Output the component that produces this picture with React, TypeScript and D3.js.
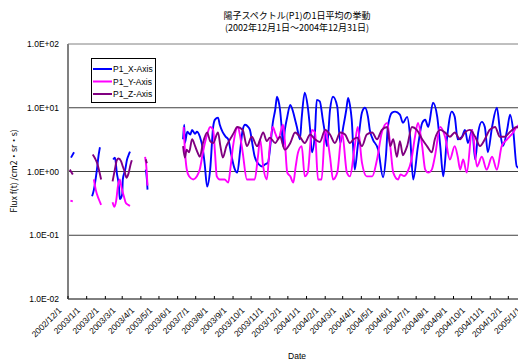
import React from "react";
import * as d3 from "d3";

// ---- Data (days since 2002-12-01, daily flux value; null = gap) ----
const startDate = new Date(2002, 11, 1);
const endDate = new Date(2005, 0, 1);

const titleLines = ["陽子スペクトル(P1)の1日平均の挙動", "(2002年12月1日～2004年12月31日)"];
const yTickValues = [0.01, 0.1, 1, 10, 100];
const yTickLabels = ["1.0E-02", "1.0E-01", "1.0E+00", "1.0E+01", "1.0E+02"];
const seriesNames = ["P1_X-Axis", "P1_Y-Axis", "P1_Z-Axis"];
const seriesColors = ["#0000ff", "#ff00ff", "#800080"];

const seriesX: [number, number | null][] = [
  [5, 1.65], [10, 2.0], [20, null],
  [40, 0.41], [43, 0.52], [48, 1.07], [51, 1.85], [53, 2.4], [60, null],
  [75, 1.54], [78, 1.65], [81, 0.96], [85, 0.52], [86, 0.37], [90, 0.44], [91, 0.75], [95, 1.07], [98, 1.54], [101, 1.85], [103, 2.05], [115, null],
  [129, 1.07], [131, 0.75], [132, 0.52], [150, null],
  [191, 3.2], [193, 5.4], [194, 2.8], [198, 4.2], [203, 3.8], [206, 4.5], [211, 3.9], [214, 4.2], [219, 3.5], [224, 2.2], [227, 1.29], [231, 0.58], [236, 1.07], [241, 5.0], [244, 6.5], [249, 7.0], [252, 5.4], [257, 4.1], [262, 3.5], [266, 3.2], [271, 1.85], [276, 1.15], [281, 0.96], [286, 2.2], [290, 4.5], [294, 5.4], [299, 5.0], [302, 4.5], [307, 2.4], [310, 1.7], [317, 1.29], [322, 1.2], [327, 1.29], [332, 1.38], [337, 3.2], [340, 5.8], [344, 9.3], [347, 14.9], [349, 13.3], [352, 9.3], [355, 4.5], [357, 2.5], [360, 4.5], [364, 7.2], [369, 11.1], [374, 8.4], [377, 6.5], [380, 5.0], [385, 3.2], [388, 7.0], [393, 17.2], [398, 10.4], [402, 4.5], [405, 2.0], [410, 4.1], [413, 13.3], [418, 12.6], [423, 6.5], [427, 3.8], [430, 2.5], [435, 9.3], [440, 14.9], [447, 10.4], [452, 2.8], [457, 5.0], [462, 9.3], [465, 14.3], [468, 11.1], [471, 6.5], [476, 1.07], [481, 2.5], [488, 8.4], [493, 10], [498, 7.2], [501, 4.5], [506, 3.2], [515, 2.2], [523, 0.81], [528, 1.85], [531, 5.0], [538, 8.4], [543, 8.7], [551, 7.8], [556, 5.8], [563, 7.2], [568, 3.5], [573, 0.75], [581, 2.5], [588, 5.8], [593, 6.5], [598, 5.0], [606, 12.0], [613, 7.2], [618, 2.5], [623, 0.84], [629, 3.2], [637, 8.7], [642, 7.2], [647, 3.2], [654, 3.5], [659, 4.5], [664, 2.8], [671, 4.5], [676, 1.54], [681, 4.1], [687, 6.0], [692, 5.0], [697, 2.0], [704, 5.0], [712, 10], [717, 4.5], [722, 2.5], [729, 4.5], [734, 7.8], [739, 4.5], [745, 1.2], [752, 1.1], [760, 1.6],
];

const seriesY: [number, number | null][] = [
  [4, 0.35], [8, 0.34], [20, null],
  [43, 0.75], [46, 0.52], [51, 0.37], [55, 0.3], [60, null],
  [74, 0.33], [77, 0.28], [80, 0.35], [83, 0.6], [86, 0.75], [89, 0.55], [93, 0.4], [96, 0.32], [100, 0.3], [103, 0.29], [115, null],
  [128, 1.7], [130, 1.2], [132, 0.6], [150, null],
  [192, 5.0], [194, 2.2], [197, 1.1], [201, 0.84], [208, 0.75], [214, 0.84], [219, 1.1], [224, 2.0], [231, 3.8], [236, 5.0], [241, 4.5], [244, 2.0], [247, 0.84], [252, 0.75], [260, 0.75], [266, 0.67], [270, 1.2], [274, 2.5], [282, 5.0], [286, 3.5], [290, 2.0], [297, 0.75], [305, 0.75], [310, 0.75], [315, 1.6], [319, 3.2], [324, 1.2], [330, 0.75], [335, 2.5], [340, 5.0], [344, 4.0], [349, 3.2], [357, 5.4], [360, 3.0], [364, 0.96], [369, 0.84], [374, 0.67], [378, 1.2], [382, 2.0], [388, 2.5], [393, 0.84], [398, 0.96], [405, 4.5], [410, 4.1], [415, 0.75], [421, 0.75], [427, 4.5], [435, 1.7], [440, 0.75], [447, 0.96], [455, 4.1], [463, 0.96], [468, 0.84], [476, 2.5], [481, 5.0], [488, 1.38], [496, 0.84], [505, 0.84], [513, 1.54], [521, 4.1], [530, 5.8], [535, 2.5], [540, 0.96], [548, 0.75], [552, 0.9], [558, 0.85], [564, 1.0], [570, 1.5], [576, 3.5], [581, 5.8], [588, 2.5], [593, 1.07], [598, 0.96], [604, 1.07], [609, 1.7], [618, 5.0], [626, 3.5], [634, 1.54], [642, 2.5], [647, 1.7], [651, 1.07], [656, 1.54], [662, 0.96], [671, 4.5], [679, 1.2], [687, 1.7], [695, 1.07], [704, 1.7], [712, 1.07], [720, 2.5], [729, 3.2], [739, 4.1], [745, 5.0], [752, 5.5], [760, 4.0],
];

const seriesZ: [number, number | null][] = [
  [3, 1.07], [8, 0.9], [20, null],
  [41, 1.85], [45, 1.6], [49, 1.3], [52, 1.0], [55, 0.75], [60, null],
  [74, 0.7], [78, 1.1], [81, 1.5], [84, 1.6], [88, 1.45], [91, 1.2], [94, 1.0], [97, 0.8], [100, 0.9], [104, 1.3], [106, 1.5], [115, null],
  [129, 1.55], [131, 1.35], [150, null],
  [191, 2.5], [194, 1.65], [197, 2.2], [201, 2.0], [206, 3.2], [211, 2.5], [215, 2.0], [219, 1.7], [224, 2.8], [231, 4.1], [236, 3.0], [241, 2.8], [249, 4.1], [253, 2.5], [257, 1.65], [263, 2.5], [269, 3.2], [275, 4.0], [281, 5.0], [290, 4.5], [297, 2.5], [305, 3.5], [314, 2.5], [319, 3.2], [324, 4.1], [330, 3.0], [335, 3.4], [344, 2.8], [352, 3.5], [360, 2.2], [369, 2.8], [377, 4.1], [385, 3.5], [393, 2.8], [402, 3.8], [410, 3.2], [418, 2.9], [427, 4.5], [435, 3.8], [443, 2.8], [452, 4.1], [460, 3.8], [468, 2.8], [474, 3.2], [480, 3.4], [488, 2.5], [496, 3.8], [505, 4.1], [513, 3.2], [521, 4.5], [530, 5.0], [535, 2.5], [540, 3.2], [546, 1.7], [551, 3.0], [556, 1.8], [559, 2.0], [563, 2.5], [571, 5.0], [579, 4.5], [588, 3.2], [596, 2.5], [604, 2.0], [609, 3.2], [618, 4.5], [626, 4.1], [634, 3.5], [642, 4.1], [651, 3.2], [659, 4.1], [667, 4.5], [676, 3.5], [684, 2.5], [692, 3.2], [700, 4.5], [709, 5.0], [717, 3.5], [725, 3.5], [734, 4.2], [745, 5.0], [752, 4.5], [760, 3.8],
];

const allSeries = [seriesX, seriesY, seriesZ];

const W = 518;
const H = 361;
const plotLeft = 68;
const plotRight = 527;
const plotTop = 44;
const plotBottom = 299;
const latin = "'Liberation Sans', Arial, sans-serif";
const cjk = "'Noto Sans CJK JP', 'Liberation Sans', sans-serif";

export default function App() {
  const x = d3.scaleTime().domain([startDate, endDate]).range([plotLeft, plotRight]);
  const y = d3.scaleLog().domain([0.01, 100]).range([plotBottom, plotTop]);
  const line = d3
    .line<[number, number | null]>()
    .defined((d) => d[1] != null)
    .curve(d3.curveMonotoneX)
    .x((d) => x(d3.timeDay.offset(startDate, d[0])))
    .y((d) => y(d[1] as number));

  const months = d3.timeMonth.range(startDate, d3.timeDay.offset(endDate, 1));
  const fmt = (d: Date) => `${d.getFullYear()}/${d.getMonth() + 1}/1`;

  return (
    <>
      <style>{`body{margin:0;}`}</style>
      <svg width={W} height={H} style={{ display: "block", background: "#fff" }}>
        {/* title */}
        {titleLines.map((t, i) => (
          <text key={i} x={297} y={19 + i * 12} textAnchor="middle" fontFamily={cjk} fontSize={9} fill="#000">
            {t}
          </text>
        ))}
        {/* gridlines */}
        {yTickValues.map((v, i) => (
          <line
            key={i}
            x1={plotLeft}
            x2={W + 20}
            y1={y(v)}
            y2={y(v)}
            stroke={i === 0 ? "#000" : i === yTickValues.length - 1 ? "#808080" : "#404040"}
            strokeWidth={1}
          />
        ))}
        {/* left axis */}
        <line x1={plotLeft} x2={plotLeft} y1={plotTop} y2={plotBottom} stroke="#808080" strokeWidth={2} />
        {/* y tick labels */}
        {yTickValues.map((v, i) => (
          <text key={i} x={59} y={y(v) + 3} textAnchor="end" fontFamily={latin} fontSize={8.5} fill="#000">
            {yTickLabels[i]}
          </text>
        ))}
        {/* x ticks and labels */}
        {months.map((m, i) => (
          <g key={i}>
            <line x1={x(m)} x2={x(m)} y1={plotBottom} y2={plotBottom - 3} stroke="#000" />
            <text
              transform={`translate(${x(m) - 6},${plotBottom + 12}) rotate(-45)`}
              textAnchor="end"
              fontFamily={latin}
              fontSize={8.5}
              fill="#000"
            >
              {fmt(m)}
            </text>
          </g>
        ))}
        {/* axis titles */}
        <text x={297} y={359} textAnchor="middle" fontFamily={latin} fontSize={8.5} fill="#000">
          Date
        </text>
        <text transform="translate(17,171) rotate(-90)" textAnchor="middle" fontFamily={cjk} fontSize={8.5} fill="#000">
          Flux f(t) /cm2・sr・s)
        </text>
        {/* series */}
        {allSeries.map((s, i) => (
          <path key={i} d={line(s) || ""} fill="none" stroke={seriesColors[i]} strokeWidth={1.9} strokeLinejoin="round" />
        ))}
        {/* legend */}
        <rect x={91.5} y={58.5} width={64} height={44} fill="#fff" stroke="#000" strokeWidth={1} />
        {seriesNames.map((n, i) => (
          <g key={i}>
            <line x1={93} x2={112} y1={69 + i * 12.5} y2={69 + i * 12.5} stroke={seriesColors[i]} strokeWidth={2} />
            <text x={113} y={72 + i * 12.5} fontFamily={latin} fontSize={8.5} fill="#000">
              {n}
            </text>
          </g>
        ))}
      </svg>
    </>
  );
}
